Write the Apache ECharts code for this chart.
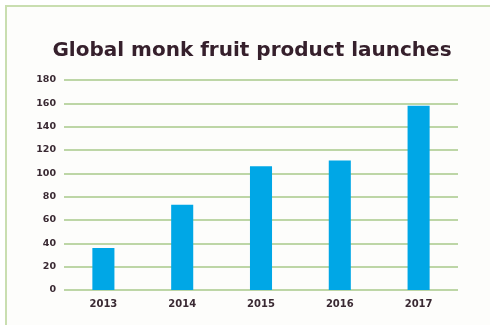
<!DOCTYPE html>
<html>
<head>
<meta charset="utf-8">
<script src="https://cdn.jsdelivr.net/npm/echarts@6/dist/echarts.min.js"></script>
<style>
  html, body { margin: 0; padding: 0; background: #ffffff; overflow: hidden; }
  #frame {
    position: absolute; left: 5px; top: 5px; width: 500px; height: 330px;
    border: 2px solid #c9deb0; box-sizing: border-box; background: #fdfdfb;
  }
  #chart { position: absolute; left: 0; top: 0; width: 490px; height: 325px; }
</style>
</head>
<body>
<div id="frame"></div>
<div id="chart"></div>
<script>
// Yearly count of new monk fruit products
const years = ['2013', '2014', '2015', '2016', '2017'];
const launches = [36, 73, 106, 111, 158];
const yTicks = [0, 20, 40, 60, 80, 100, 120, 140, 160, 180];

const chart = echarts.init(document.getElementById('chart'));
chart.setOption({
  animation: false,
  title: {
    text: 'Global monk fruit product launches',
    left: 247,
    textAlign: 'center',
    top: 36,
    textStyle: {
      fontFamily: 'DejaVu Sans',
      fontWeight: 'bold',
      fontSize: 20,
      color: '#36202c'
    }
  },
  grid: { left: 64, right: 32, top: 80, bottom: 35, containLabel: false },
  xAxis: {
    type: 'category',
    data: years,
    axisLine: { show: false },
    axisTick: { show: false },
    axisLabel: {
      margin: 9,
      fontFamily: 'DejaVu Sans',
      fontWeight: 'bold',
      fontSize: 10,
      color: '#3a2a33'
    }
  },
  yAxis: {
    type: 'value',
    min: yTicks[0],
    max: yTicks[yTicks.length - 1],
    interval: yTicks[1] - yTicks[0],
    axisLine: { show: false },
    axisTick: { show: false },
    axisLabel: {
      margin: 8,
      fontFamily: 'DejaVu Sans',
      fontWeight: 'bold',
      fontSize: 9.5,
      color: '#3a2a33'
    },
    splitLine: { lineStyle: { color: '#a7c98a', width: 1.5 } }
  },
  series: [{
    type: 'bar',
    data: launches,
    barWidth: '28%',
    itemStyle: { color: '#00a7e6' }
  }]
});
</script>
</body>
</html>
